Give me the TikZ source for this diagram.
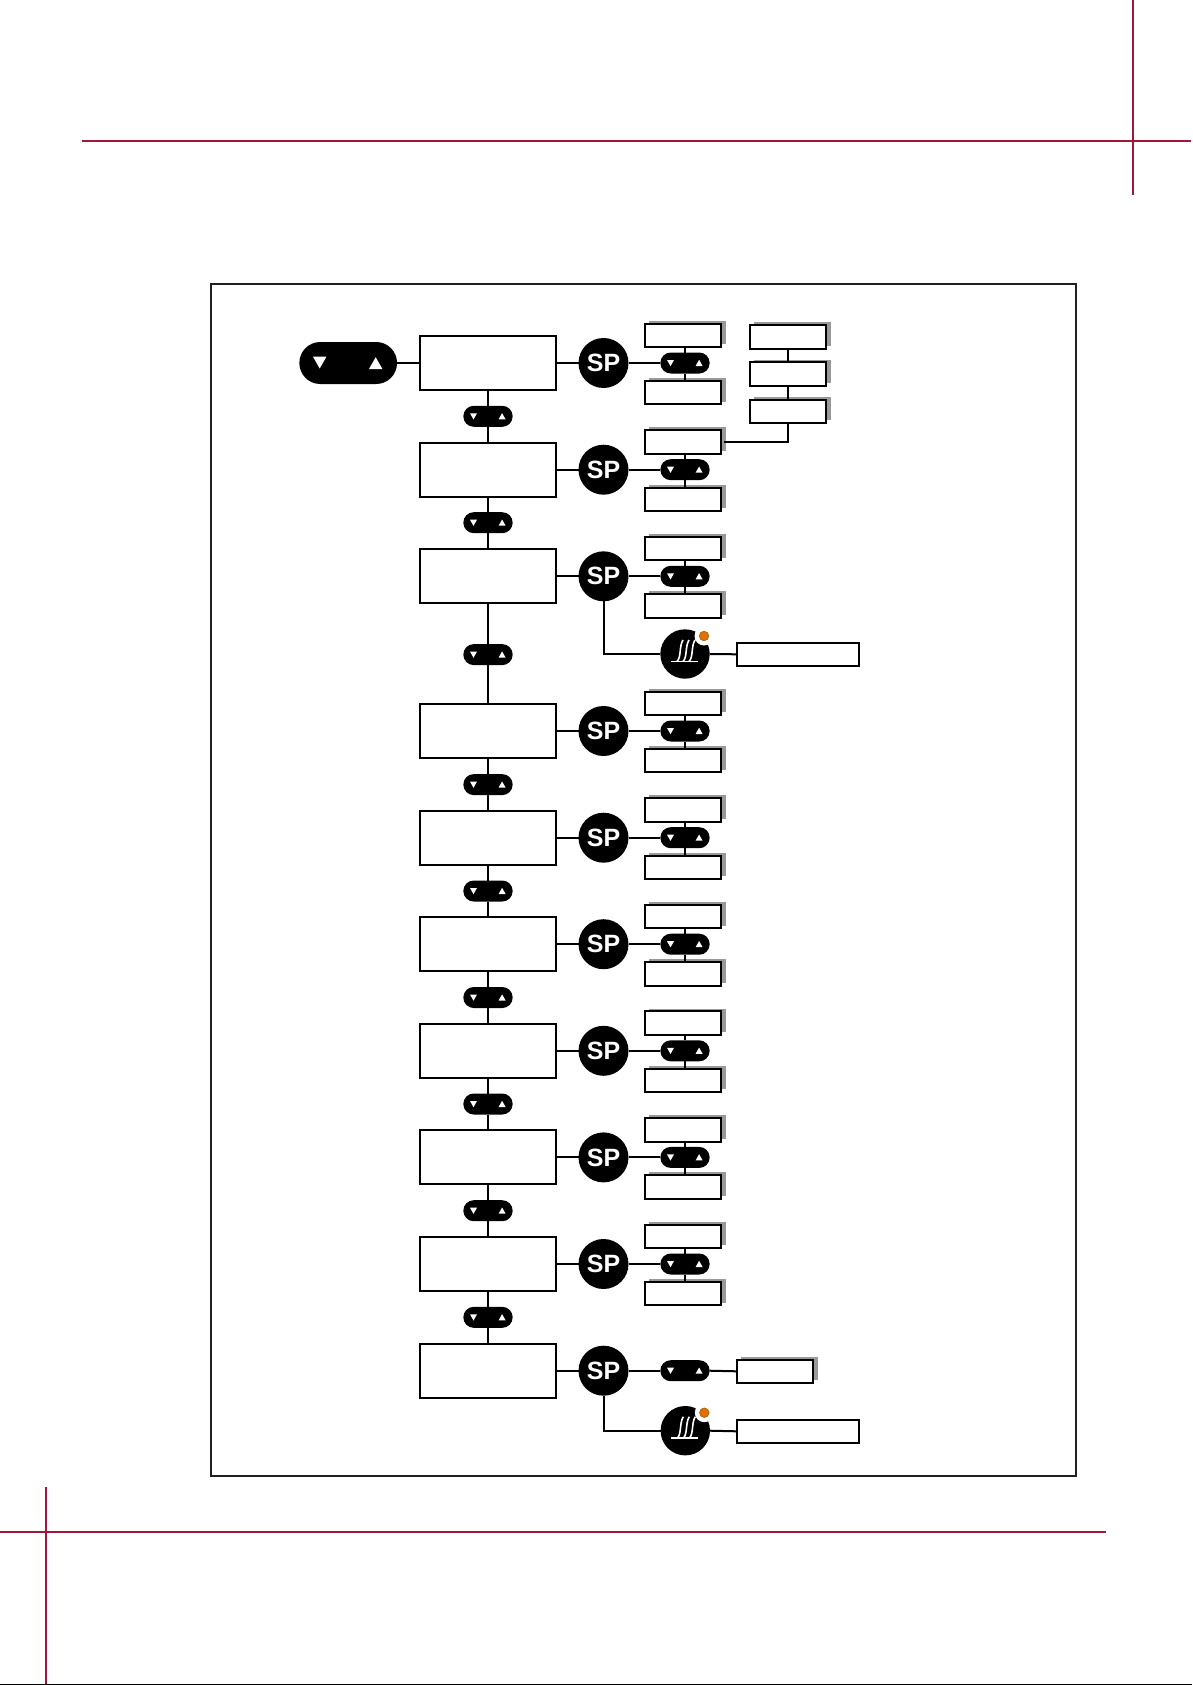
\documentclass[tikz,border=0pt]{standalone}
\usepackage{fontspec}
\setmainfont{Liberation Sans}
\definecolor{crop}{HTML}{A0173C}
\definecolor{frameink}{HTML}{231F20}
\definecolor{shadowgray}{HTML}{999999}
\definecolor{lamp}{HTML}{E07000}
\definecolor{lampedge}{HTML}{A86010}
\usetikzlibrary{calc}
\tikzset{
  cropline/.style={draw=crop,line width=1.7pt},
  conn/.style={draw=black,line width=2pt},
  mainbox/.style={draw=black,fill=white,line width=2pt,minimum width=136pt,minimum height=54pt,inner sep=0pt,outer sep=0pt},
  smallbox/.style={draw=black,fill=white,line width=2pt,minimum width=76.6pt,minimum height=23.6pt,inner sep=0pt,outer sep=0pt},
  smallshadow/.style={fill=shadowgray,minimum width=76.6pt,minimum height=23.6pt,inner sep=0pt,outer sep=0pt},
  widebox/.style={draw=black,fill=white,line width=2pt,minimum width=122.6pt,minimum height=23.4pt,inner sep=0pt,outer sep=0pt},
  spdisc/.style={circle,fill=black,minimum size=50pt,inner sep=0pt,outer sep=0pt,text=white,font=\fontsize{25}{25}\selectfont\bfseries},
  heatdisc/.style={circle,fill=black,minimum size=49.4pt,inner sep=0pt,outer sep=0pt},
  pillsmall/.style={fill=black,rounded corners=10.4pt,minimum width=49.3pt,minimum height=21pt,inner sep=0pt,outer sep=0pt},
  pilllarge/.style={fill=black,rounded corners=20.9pt,minimum width=97.7pt,minimum height=42pt,inner sep=0pt,outer sep=0pt},
}
% small pill: name, x, y
\newcommand{\smallpill}[3]{%
  \node[pillsmall] (#1) at (#2,#3) {};
  \fill[white] ($(#1.center)+(-18,-3)$) -- ++(7,0) -- ++(-3.5,6.2) -- cycle;
  \fill[white] ($(#1.center)+(10.6,3)$) -- ++(7,0) -- ++(-3.5,-6.2) -- cycle;
}
% heater disc: name, x, y
\newcommand{\heater}[3]{%
  \node[heatdisc] (#1) at (#2,#3) {};
  \fill[white] ($(#1.center)+(19,-18)$) circle (9.5);
  \filldraw[fill=lamp,draw=lampedge,line width=.6pt] ($(#1.center)+(19,-18)$) circle (4.8);
  \draw[white,line width=1.9pt] ($(#1.center)+(-14,7.5)$) -- ++(27,0);
  \foreach \dx in {0,6,12}{
    \draw[white,line width=1.6pt] ($(#1.center)+(-8+\dx,7.5)$) .. controls ($(#1.center)+(-3.5+\dx,3)$) and ($(#1.center)+(-6+\dx,-8)$) .. ($(#1.center)+(-2+\dx,-14)$);
  }
}
\begin{document}
\begin{tikzpicture}[x=1pt,y=-1pt]
\useasboundingbox (0,0) rectangle (1192,1685);
% crop lines
\coordinate (cta) at (82,141); \coordinate (ctb) at (1191,141);
\coordinate (cva) at (1133,0); \coordinate (cvb) at (1133,195);
\coordinate (bha) at (0,1531.7); \coordinate (bhb) at (1106,1531.7);
\coordinate (bva) at (46,1487); \coordinate (bvb) at (46,1685);
\coordinate (ea) at (0,1684.4); \coordinate (eb) at (1192,1684.4);
\draw[cropline] (cta) -- (ctb);
\draw[cropline] (cva) -- (cvb);
\draw[cropline] (bha) -- (bhb);
\draw[cropline] (bva) -- (bvb);
\draw[black,line width=1.2pt] (ea) -- (eb);
% frame
\node[draw=frameink,line width=1.8pt,minimum width=865.3pt,minimum height=1192pt,inner sep=0pt] (frame) at (643.35,880) {};
% rows
\foreach \i/\y in {1/363,2/469.7,3/576.3,4/731,5/837.7,6/944.2,7/1050.8,8/1157.4,9/1264,10/1370.7}{
  \node[mainbox] (r\i) at (488,\y) {};
  \node[spdisc] (sp\i) at (603.5,\y) {\raisebox{-2pt}{SP}};
  \draw[conn] (r\i.east) -- (sp\i.west);
  \smallpill{q\i}{685}{\y}
  \draw[conn] (sp\i.east) -- (q\i.west);
}
% upper and lower value boxes
\foreach \i/\y in {1/363,2/469.7,3/576.3,4/731,5/837.7,6/944.2,7/1050.8,8/1157.4,9/1264}{
  \node[smallshadow] (us\i) at (687.4,\y-30.5) {};
  \node[smallbox] (u\i) at (683,\y-27.7) {};
  \node[smallshadow] (ls\i) at (687.4,\y+26.8) {};
  \node[smallbox] (l\i) at (683,\y+29.6) {};
  \draw[conn] (q\i.north) -- (q\i.north |- u\i.south);
  \draw[conn] (q\i.south) -- (q\i.south |- l\i.north);
}
% entry pill
\node[pilllarge] (entry) at (348.2,363) {};
\fill[white] (313,356.7) -- ++(13.4,0) -- ++(-6.7,11.8) -- cycle;
\fill[white] (369,369) -- ++(13.4,0) -- ++(-6.7,-11.8) -- cycle;
\draw[conn] (entry.east) -- (r1.west);
% pills between rows
\foreach \i/\j/\y in {1/2/416.3,2/3/522.7,3/4/654.6,4/5/784.6,5/6/891,6/7/997.5,7/8/1104,8/9/1210.7,9/10/1317.3}{
  \smallpill{v\i}{488}{\y}
  \draw[conn] (r\i.south) -- (v\i.north);
  \draw[conn] (v\i.south) -- (r\j.north);
}
% second column boxes
\foreach \i/\y in {1/336.8,2/374.2,3/411.3}{
  \node[smallshadow] (cs\i) at (792.4,\y-2.8) {};
  \node[smallbox] (c\i) at (788,\y) {};
}
\draw[conn] (c1.south) -- (c2.north);
\draw[conn] (c2.south) -- (c3.north);
\coordinate (jn) at (724,441.8);
\draw[conn] (c3.south) |- (jn);
% heater, row 3
\heater{h1}{685}{654}
\draw[conn] (sp3.south) |- (h1.west);
\node[widebox] (w1) at (798,654.3) {};
\draw[conn] (h1.east) -- (w1.west);
% row 10 extras
\node[smallshadow] (es) at (779.4,1368.5) {};
\node[smallbox] (e) at (775,1371.3) {};
\draw[conn] (q10.east) -- (e.west);
\heater{h2}{685.3}{1430.7}
\draw[conn] (sp10.south) |- (h2.west);
\node[widebox] (w2) at (798,1431.3) {};
\draw[conn] (h2.east) -- (w2.west);
\end{tikzpicture}
\end{document}
